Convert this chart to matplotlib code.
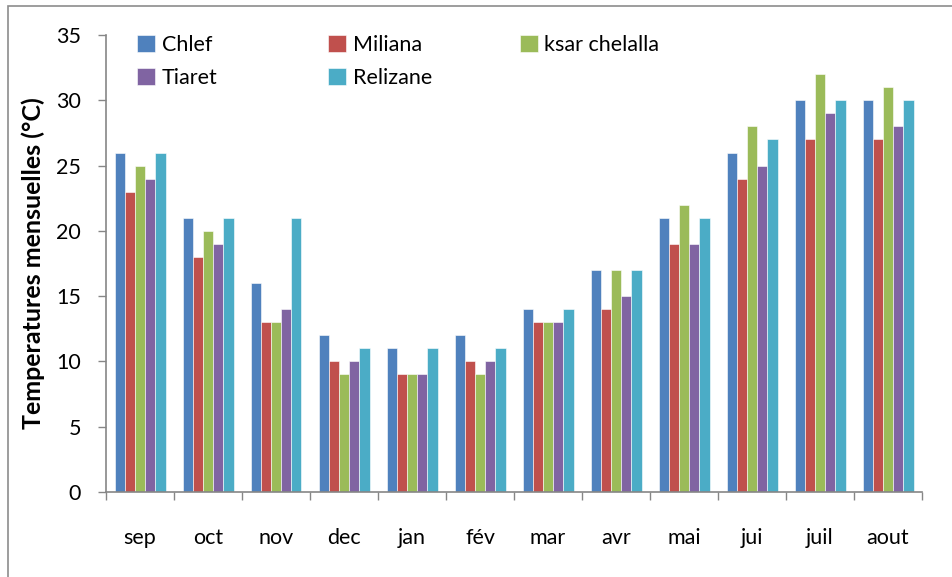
import matplotlib
matplotlib.use("Agg")
import matplotlib.pyplot as plt
import numpy as np
from matplotlib.patches import Rectangle

months = ["sep", "oct", "nov", "dec", "jan", "fév", "mar", "avr", "mai", "jui", "juil", "aout"]
chlef    = [26, 21, 16, 12, 11, 12, 14, 17, 21, 26, 30, 30]
miliana  = [23, 18, 13, 10, 9, 10, 13, 14, 19, 24, 27, 27]
ksar     = [25, 20, 13, 9, 9, 9, 13, 17, 22, 28, 32, 31]
tiaret   = [24, 19, 14, 10, 9, 10, 13, 15, 19, 25, 29, 28]
relizane = [26, 21, 21, 11, 11, 11, 14, 17, 21, 27, 30, 30]

series_names = ["Chlef", "Miliana", "ksar chelalla", "Tiaret", "Relizane"]
series = [chlef, miliana, ksar, tiaret, relizane]
colors = ["#4F81BD", "#C0504D", "#9BBB59", "#8064A2", "#4BACC6"]

plt.rcParams['font.family'] = ['Lato', 'DejaVu Sans']

fig = plt.figure(figsize=(9.53, 5.77), dpi=100)
ax = fig.add_axes([106/953, 1-492/577, (922-106)/953, (492-35)/577])

fig.patches.append(Rectangle((8/953, -0.1), 1.1, 1 - 6/577 + 0.1, transform=fig.transFigure,
                             fill=False, edgecolor="#8c8c8c", linewidth=1.2))

x = np.arange(len(months))
n = len(series)
w = 0.75 / n
handles = []
for i, (name, vals, c) in enumerate(zip(series_names, series, colors)):
    b = ax.bar(x - 0.375 + w/2 + i*w, vals, w, color=c, edgecolor="white", linewidth=0.4, label=name)
    handles.append(b)

ax.set_xlim(-0.5, len(months) - 0.5)
ax.set_ylim(0, 35)
ax.set_yticks(range(0, 36, 5))
ax.set_xticks(x)
ax.set_xticklabels(months)
ax.set_xticks(np.arange(-0.5, len(months), 1), minor=True)
ax.tick_params(axis='x', which='major', length=0, pad=26, labelsize=15.5)
ax.tick_params(axis='x', which='minor', length=6, color="#868686", width=1, direction='out')
ax.tick_params(axis='y', length=6, color="#868686", width=1, direction='out', labelsize=15.5, pad=12)

for s in ["top", "right"]:
    ax.spines[s].set_visible(False)
for s in ["left", "bottom"]:
    ax.spines[s].set_color("#868686")
    ax.spines[s].set_linewidth(1.2)

ax.set_ylabel("Temperatures mensuelles (°C)", fontsize=18, fontweight="bold", labelpad=8)

columns = [[0, 3], [1, 4], [2]]
col_x = [0.038, 0.272, 0.507]
legs = []
for idx, cx in zip(columns, col_x):
    leg = ax.legend([handles[i] for i in idx], [series_names[i] for i in idx],
                    loc="upper left", bbox_to_anchor=(cx, 1.001), frameon=False, fontsize=15.5,
                    handlelength=0.85, handleheight=0.85, handletextpad=0.3,
                    labelspacing=0.62, borderpad=0, borderaxespad=0)
    legs.append(leg)
for leg in legs[:-1]:
    ax.add_artist(leg)

fig.savefig("out.png", dpi=100)
